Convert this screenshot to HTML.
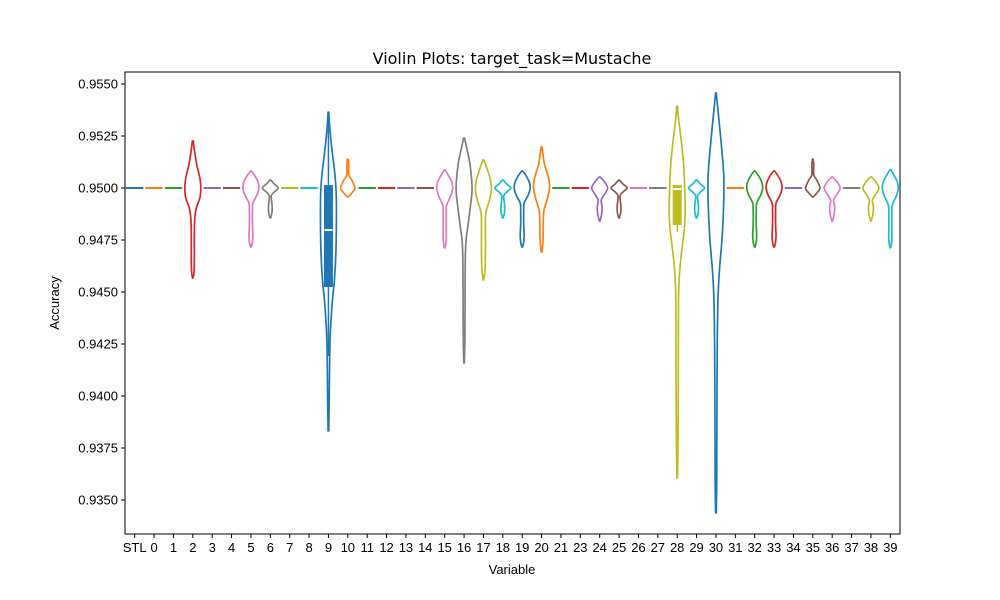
<!DOCTYPE html>
<html><head><meta charset="utf-8"><style>
body{margin:0;background:#fff;}
svg{display:block;font-family:"Liberation Sans","DejaVu Sans",sans-serif;}
</style></head><body>
<svg id="chart" width="1000" height="600" viewBox="0 0 1000 600">
<rect x="0" y="0" width="1000" height="600" fill="#fff"/>
<text x="512" y="64" font-size="16" text-anchor="middle" font-family="DejaVu Sans, sans-serif">Violin Plots: target_task=Mustache</text>
<text x="512" y="574" font-size="13" text-anchor="middle">Variable</text>
<text transform="translate(59,303) rotate(-90)" font-size="13" text-anchor="middle">Accuracy</text>
<g id="plot"></g>
<rect x="125" y="72" width="775" height="462" fill="none" stroke="#000" stroke-width="1"/>
</svg>
<script>
const categories = ["STL","0","1","2","3","4","5","6","7","8","9","10","11","12","13","14","15","16","17","18","19","20","21","23","24","25","26","27","28","29","30","31","32","33","34","35","36","37","38","39"];
const yTicks = [0.9350,0.9375,0.9400,0.9425,0.9450,0.9475,0.9500,0.9525,0.9550];
const constantValue = 0.95;
const vioTallA = [.95226,.95183,.95111,.95048,.95,.94952,.94904,.94856,.94774,.94654,.94596,.94567];
const vioDensA = [.06,.19,.5,.88,1,.88,.44,.25,.19,.19,.15,.04];
const v5 = [.95082,.95058,.95029,.95,.94966,.94928,.94894,.94822,.94774,.9474,.94716];
const d5 = [.06,.5,.88,1,.75,.25,.19,.19,.25,.19,.04];
const vDia = [.95038,.95019,.95,.94981,.94962,.94918,.94885,.94856];
const dDia = [.06,.5,1,.5,.12,.22,.22,.04];
const v9 = [.95365,.95279,.95183,.95087,.95,.94894,.94702,.94558,.94462,.94317,.94173,.93981,.93832];
const d9 = [.04,.19,.44,.75,.94,1,.94,.75,.5,.25,.15,.1,.04];
const vSpike = [.95139,.95111,.95063,.95038,.95,.94976,.94957];
const dSpike = [.04,.12,.12,.5,.9,.5,.06];
const v15 = [.95087,.95058,.95029,.95,.94962,.94918,.94885,.94798,.9475,.94712];
const d15 = [.06,.5,.88,1,.75,.25,.19,.19,.19,.04];
const v16 = [.9524,.95183,.95111,.95,.94918,.94822,.9475,.94654,.94462,.94269,.94159];
const d16 = [.06,.38,.75,1,.81,.5,.25,.15,.12,.1,.04];
const v17 = [.95135,.95087,.95038,.9499,.94942,.94894,.94856,.94702,.94606,.94558];
const d17 = [.06,.5,.88,1,.75,.38,.25,.25,.19,.04];
const v20 = [.95197,.95159,.95111,.95048,.95,.94952,.94894,.94846,.9475,.94692];
const d20 = [.06,.19,.38,.88,1,.75,.31,.22,.19,.04];
const v24 = [.95053,.95029,.95,.94971,.94942,.94909,.94875,.94841];
const d24 = [.06,.62,1,.62,.19,.31,.25,.04];
const v28 = [.95394,.95327,.95231,.95111,.95,.94894,.94798,.94654,.9451,.94221,.93885,.93606];
const d28 = [.04,.19,.5,.81,.94,1,.88,.44,.19,.15,.12,.04];
const v30 = [.95457,.95375,.95231,.95087,.95,.94894,.9475,.94606,.94462,.94221,.93885,.93596,.93438];
const d30 = [.04,.25,.62,.94,1,.94,.75,.44,.25,.16,.12,.1,.04];
const violinValues = {"2":vioTallA,"5":v5,"6":vDia,"9":v9,"10":vSpike,"15":v15,"16":v16,"17":v17,"18":vDia,"19":v5,"20":v20,"24":v24,"25":vDia,"28":v28,"29":vDia,"30":v30,"32":v5,"33":v5,"35":vSpike,"36":v24,"38":v24,"39":v15};
const violinDensity = {"2":vioDensA,"5":d5,"6":dDia,"9":d9,"10":dSpike,"15":d15,"16":d16,"17":d17,"18":dDia,"19":d5,"20":d20,"24":d24,"25":dDia,"28":d28,"29":dDia,"30":d30,"32":d5,"33":d5,"35":dSpike,"36":d24,"38":d24,"39":d15};
const boxCats = ["9","28"];
const boxStats = [[.94192,.94524,.94798,.95014,.95365],[.94788,.94822,.94995,.95014,.95014]];

const palette = ["#1f77b4","#ff7f0e","#2ca02c","#d62728","#9467bd","#8c564b","#e377c2","#7f7f7f","#bcbd22","#17becf"];
const X0=125, X1=900, Y0=72, Y1=534;
const step=(X1-X0)/categories.length;
const xPos = i => X0 + step*(i+0.5);
const yPos = v => 188 - (v-0.95)*20800;
const HW = 8;
const NS="http://www.w3.org/2000/svg";
const plot=document.getElementById('plot');
function mk(tag,attrs){const e=document.createElementNS(NS,tag);for(const k in attrs)e.setAttribute(k,attrs[k]);return e;}

yTicks.forEach(t=>{
  const y=yPos(t);
  const tk=mk('line',{x1:X0-4,x2:X0,y1:y,y2:y,stroke:'#000'});
  
  
  plot.appendChild(tk);
  const tx=mk('text',{x:X0-7,y:y+4.5,'font-size':13,'text-anchor':'end'});
  tx.textContent=t.toFixed(4);
  
  
  plot.appendChild(tx);
});
categories.forEach((c,i)=>{
  const x=xPos(i);
  const tk=mk('line',{x1:x,x2:x,y1:Y1,y2:Y1+4,stroke:'#000'});
  
  
  plot.appendChild(tk);
  const tx=mk('text',{x:x,y:Y1+18,'font-size':13,'text-anchor':'middle'});
  tx.textContent=c;
  
  
  plot.appendChild(tx);
});

function smoothPath(pts){
  let d='M'+pts[0][0]+','+pts[0][1];
  for(let i=0;i<pts.length-1;i++){
    const p0=pts[Math.max(0,i-1)],p1=pts[i],p2=pts[i+1],p3=pts[Math.min(pts.length-1,i+2)];
    const c1=[p1[0]+(p2[0]-p0[0])/6,p1[1]+(p2[1]-p0[1])/6];
    const c2=[p2[0]-(p3[0]-p1[0])/6,p2[1]-(p3[1]-p1[1])/6];
    d+=' C'+c1[0]+','+c1[1]+' '+c2[0]+','+c2[1]+' '+p2[0]+','+p2[1];
  }
  return d;
}

categories.forEach((c,i)=>{
  const x=xPos(i), col=palette[i%10];
  const vals=violinValues[c], dens=violinDensity[c];
  if(!vals){
    const ln=mk('line',{x1:x-step*0.45,x2:x+step*0.45,y1:yPos(constantValue),y2:yPos(constantValue),stroke:col,'stroke-width':2});
    
    
    plot.appendChild(ln);
    return;
  }
  const right=vals.map((v,k)=>[x+dens[k]*HW,yPos(v)]);
  const left=vals.map((v,k)=>[x-dens[k]*HW,yPos(v)]).reverse();
  const top=yPos(vals[0]), bot=yPos(vals[vals.length-1]);
  const d='M'+x+','+top+' L'+smoothPath(right).slice(1)+' L'+x+','+bot+' L'+smoothPath(left).slice(1)+' Z';
  const p=mk('path',{d:d,fill:'none',stroke:col,'stroke-width':1.7,'stroke-linejoin':'round'});
  
  
  plot.appendChild(p);
  const bi=boxCats.indexOf(c);
  if(bi>=0){
    const s=boxStats[bi];
    const w=mk('line',{x1:x,x2:x,y1:yPos(s[0]),y2:yPos(s[4]),stroke:col,'stroke-width':1.5});
    
    
    plot.appendChild(w);
    const b=mk('rect',{x:x-4.5,y:yPos(s[3]),width:9,height:yPos(s[1])-yPos(s[3]),fill:col});
    
    
    plot.appendChild(b);
    const m=mk('line',{x1:x-4,x2:x+4,y1:yPos(s[2]),y2:yPos(s[2]),stroke:'#fff','stroke-width':2});
    
    
    plot.appendChild(m);
  }
});
</script>
</body></html>
